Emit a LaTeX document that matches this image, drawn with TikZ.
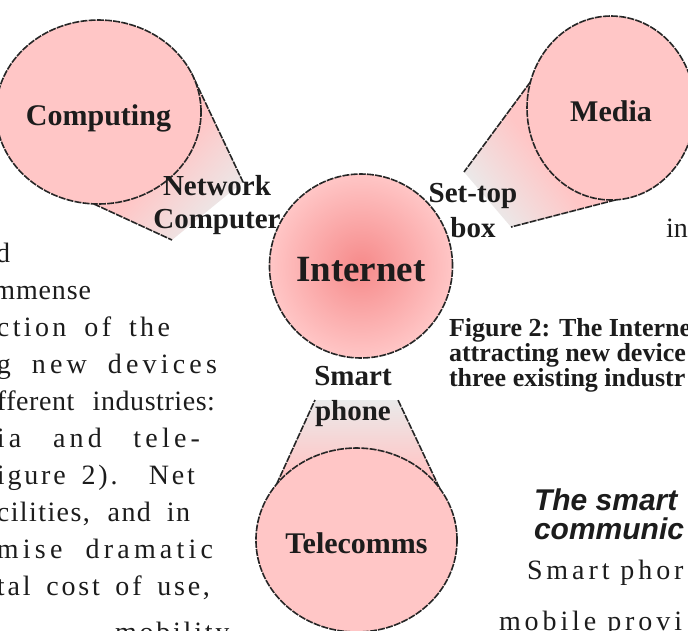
\documentclass[tikz,border=0pt]{standalone}
\usepackage{fontspec}
\setmainfont{Liberation Serif}
\newfontfamily\headfont{Liberation Sans}
\usetikzlibrary{backgrounds,positioning,shapes.geometric}

\definecolor{blush}{RGB}{255,198,198}
\definecolor{netcore}{RGB}{246,138,138}
\definecolor{haze}{RGB}{234,234,234}
\definecolor{ink}{RGB}{28,28,28}

\newcommand{\jline}[3]{\makebox[#1pt][s]{\addfontfeatures{LetterSpace=#2}#3}}

\begin{document}
\begin{tikzpicture}[x=1pt,y=-1pt,every node/.style={inner sep=0pt,outer sep=0pt,text=ink},
    rim/.style={draw=black!85,line width=1.6pt,dash pattern=on 7pt off 1.2pt},
    sphere/.style={ellipse,rim,minimum width=168pt,minimum height=184pt,
      font=\bfseries\fontsize{30}{33}\selectfont,text height=26pt,text depth=0pt},
    industry/.style={sphere,fill=blush},
    device/.style={align=center,font=\bfseries\fontsize{29}{33}\selectfont},
    body/.style={anchor=base west,font=\fontsize{28}{34}\selectfont},
    caption/.style={anchor=base west,font=\bfseries\fontsize{26}{28}\selectfont}]

  \useasboundingbox (0,0) rectangle (688,630);
  \clip (0,0) rectangle (688,630);

  \node[industry] (COMPUTING) at (98.5,112) {Computing};
  \node[industry] (MEDIA) at (611,108) {Media};
  \node[industry] (TELECOMMS) at (356.5,540) {Telecomms};
  \node[sphere,inner color=netcore,outer color=blush,
    font=\bfseries\fontsize{37}{40}\selectfont,text height=30pt] (INTERNET) at (361,266) {Internet};

  \coordinate (NC1) at (243,182);
  \coordinate (NC2) at (172,240);
  \coordinate (STB1) at (464,172);
  \coordinate (STB2) at (511,227);
  \coordinate (SP1) at (315,400);
  \coordinate (SP2) at (398,400);

  \begin{pgfonlayer}{background}
    \shade[top color=blush,bottom color=haze,middle color=blush,shading angle=48]
      (COMPUTING.center) -- (COMPUTING.23) -- (NC1) -- (NC2) -- (COMPUTING.267) -- cycle;
    \shade[top color=blush,bottom color=haze,middle color=blush,shading angle=-53]
      (MEDIA.center) -- (MEDIA.162) -- (STB1) -- (STB2) -- (MEDIA.273) -- cycle;
    \shade[top color=blush,bottom color=haze,middle color=blush,shading angle=180]
      (TELECOMMS.center) -- (TELECOMMS.145) -- (SP1) -- (SP2) -- (TELECOMMS.32) -- cycle;
    \draw[rim] (COMPUTING.23) -- (NC1);
    \draw[rim] (COMPUTING.267) -- (NC2);
    \draw[rim] (MEDIA.162) -- (STB1);
    \draw[rim] (MEDIA.273) -- (STB2);
    \draw[rim] (TELECOMMS.145) -- (SP1);
    \draw[rim] (TELECOMMS.32) -- (SP2);
  \end{pgfonlayer}

  \node[device] (NETPC) at (217,205) {Network\\Computer};
  \node[device] (SETTOP) at (473,211) {Set-top\\[2pt]box};
  \node[device] (PHONE) at (353,396) {Smart\\[2pt]phone};

  \node[body] (TXT1) at (-4,262) {d};
  \node[body,anchor=base east] (TXT2) at (91,299) {\addfontfeatures{LetterSpace=3}mmense};
  \node[body] (TXT3) at (-3,336) {\jline{173}{12}{ction of the}};
  \node[body] (TXT4) at (-3,373) {\jline{220}{15}{g new devices}};
  \node[body] (TXT5) at (-3,410) {\jline{218}{2}{fferent industries:}};
  \node[body] (TXT6) at (-3,447) {\jline{203}{15}{ia and tele-}};
  \node[body] (TXT7) at (-3,484) {\jline{198}{10}{igure 2). Net}};
  \node[body] (TXT8) at (-3,521) {\jline{193}{5}{cilities, and in}};
  \node[body] (TXT9) at (-3,558) {\jline{216}{15}{mise dramatic}};
  \node[body] (TXT10) at (-3,595) {\jline{213}{10}{tal cost of use,}};
  \node[body] (TXT11) at (115,641) {\addfontfeatures{LetterSpace=10}mobility};

  \node[body] (TXT12) at (666,237) {in};
  \node[caption] (CAP1) at (449,336) {Figure 2: The Interne};
  \node[caption] (CAP2) at (449,361) {attracting new device};
  \node[caption] (CAP3) at (449,386) {three existing industr};

  \node[body,font=\headfont\bfseries\itshape\fontsize{30}{33}\selectfont] (HEAD1) at (534,510) {The smart};
  \node[body,font=\headfont\bfseries\itshape\fontsize{30}{33}\selectfont] (HEAD2) at (534,539) {communic};
  \node[body] (TXT13) at (527,579) {\addfontfeatures{LetterSpace=14}Smart phor};
  \node[body] (TXT14) at (499,630) {\addfontfeatures{LetterSpace=14}mobile provi};
\end{tikzpicture}
\end{document}
